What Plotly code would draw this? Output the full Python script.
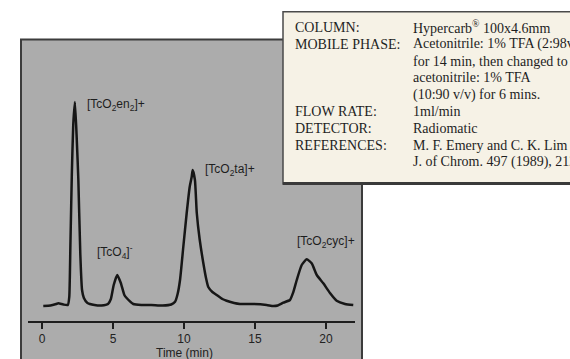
import plotly.graph_objects as go

W, H = 570, 359

# chromatogram trace (time in min, detector signal, arbitrary units)
time_min = [0.09, 0.6, 1.0, 1.15, 1.5, 1.82, 1.92, 2.0, 2.1, 2.2, 2.32, 2.45, 2.56, 2.7, 2.82, 2.95, 3.2, 3.7,
            4.2, 4.65, 4.85, 5.05, 5.3, 5.55, 5.8, 5.96, 6.43, 7.0, 7.7, 8.5, 9.1, 9.37, 9.55, 9.72, 9.95, 10.19,
            10.4, 10.54, 10.61, 10.77, 10.9, 11.1, 11.36, 11.55, 11.71, 12.0, 12.3, 12.7, 13.0, 13.94, 14.88,
            15.82, 16.29, 16.6, 17.0, 17.46, 17.7, 17.94, 18.29, 18.64, 18.99, 19.35, 19.81, 20.28, 20.75, 21.34, 21.92]
signal = [-1, -0.5, 1.0, 1.7, 0.5, 0, 8, 60, 130, 180, 203, 165, 125, 50, 15, 7, 2, 0,
          -0.5, 1, 6, 20, 30, 22, 10, 7, 1, 0, 0, -0.5, 0.5, 3.3, 11, 25, 58, 92,
          118, 128, 135, 125, 92, 66, 42, 27, 18, 13, 10, 6, 4.3, 1, 1,
          0, -1, -0.5, 2.3, 5, 13, 25, 40, 45.7, 41.7, 30, 21.7, 12, 4.3, 1, 0]

tick_vals = [0, 5, 10, 15, 20]
tick_text = ["0", "5", "10", "15", "20"]

peak_labels = ["[TcO<sub>2</sub>en<sub>2</sub>]+", "[TcO<sub>4</sub>]<sup>-</sup>",
               "[TcO<sub>2</sub>ta]+", "[TcO<sub>2</sub>cyc]+"]
label_px = [(85, 105), (95, 252), (203, 170), (295, 242)]

info_left = ["COLUMN:", "MOBILE PHASE:", "", "", "", "FLOW RATE:", "DETECTOR:", "REFERENCES:", ""]
info_right = ["Hypercarb<sup>®</sup> 100x4.6mm",
              "Acetonitrile: 1% TFA (2:98v/v)",
              "for 14 min, then changed to",
              "acetonitrile: 1% TFA",
              "(10:90 v/v) for 6 mins.",
              "1ml/min",
              "Radiomatic",
              "M. F. Emery and C. K. Lim",
              "J. of Chrom. 497 (1989), 212."]


def px(x):
    return x / W


def py(y):
    return 1 - y / H


fig = go.Figure()
fig.add_trace(go.Scatter(x=time_min, y=signal, mode="lines",
                         line=dict(color="#161616", width=2.5, shape="spline", smoothing=0.5),
                         hoverinfo="skip", showlegend=False))

axis_font = dict(family="Liberation Sans, Arial, sans-serif", size=12, color="#222222")

x_left_px, x_right_px, x0_px, scale = 28, 355, 42, 14.2
fig.update_layout(
    width=W, height=H,
    margin=dict(l=0, r=0, t=0, b=0, pad=0),
    paper_bgcolor="white",
    plot_bgcolor="rgba(0,0,0,0)",
    showlegend=False,
    xaxis=dict(domain=[px(x_left_px), px(x_right_px)],
               range=[(x_left_px - x0_px) / scale, (x_right_px - x0_px) / scale],
               showline=True, linecolor="#1e1e1e", linewidth=2,
               ticks="outside", ticklen=6, tickwidth=1.5, tickcolor="#1e1e1e",
               tickvals=tick_vals, ticktext=tick_text, tickfont=axis_font,
               showgrid=False, zeroline=False, fixedrange=True),
    yaxis=dict(domain=[py(320.7), py(40)], range=[-15.7, 265], visible=False, fixedrange=True),
)

# gray chart panel
fig.add_shape(type="rect", xref="paper", yref="paper", x0=px(21), x1=px(362), y0=py(366), y1=py(39.5),
              fillcolor="#acacac", line=dict(color="#3c3c3c", width=2), layer="below")

# axis title
fig.add_annotation(x=px(184), y=py(353), xref="paper", yref="paper", text="Time (min)",
                   showarrow=False, font=axis_font, xanchor="center", yanchor="middle")

for txt, (lx, ly) in zip(peak_labels, label_px):
    fig.add_annotation(x=px(lx), y=py(ly), xref="paper", yref="paper", text=txt, showarrow=False,
                       font=dict(family="Liberation Sans, Arial, sans-serif", size=12, color="#1e1e1e"),
                       xanchor="left", yanchor="middle")

# info box
fig.add_shape(type="rect", xref="paper", yref="paper", x0=px(283), x1=px(580), y0=py(184), y1=py(11.7),
              fillcolor="#f6f2e6", line=dict(color="#4a4a4a", width=1.5), layer="above")
fig.add_shape(type="line", xref="paper", yref="paper", x0=px(283), x1=px(580), y0=py(183.5), y1=py(183.5),
              line=dict(color="#3a3a3a", width=3), layer="above")

serif = dict(family="Liberation Serif, Times New Roman, serif", size=14, color="#1e1e1e")
line_y0, line_step = 27.5, 16.8
for i, (a, b) in enumerate(zip(info_left, info_right)):
    yy = py(line_y0 + i * line_step)
    if a:
        fig.add_annotation(x=px(293), y=yy, xref="paper", yref="paper", text=a, showarrow=False,
                           font=serif, xanchor="left", yanchor="middle")
    fig.add_annotation(x=px(411), y=yy, xref="paper", yref="paper", text=b, showarrow=False,
                       font=serif, xanchor="left", yanchor="middle")

fig.write_html("out.html", config={"displayModeBar": False},
               post_script="document.body.style.margin='0';document.body.style.overflow='hidden';")
